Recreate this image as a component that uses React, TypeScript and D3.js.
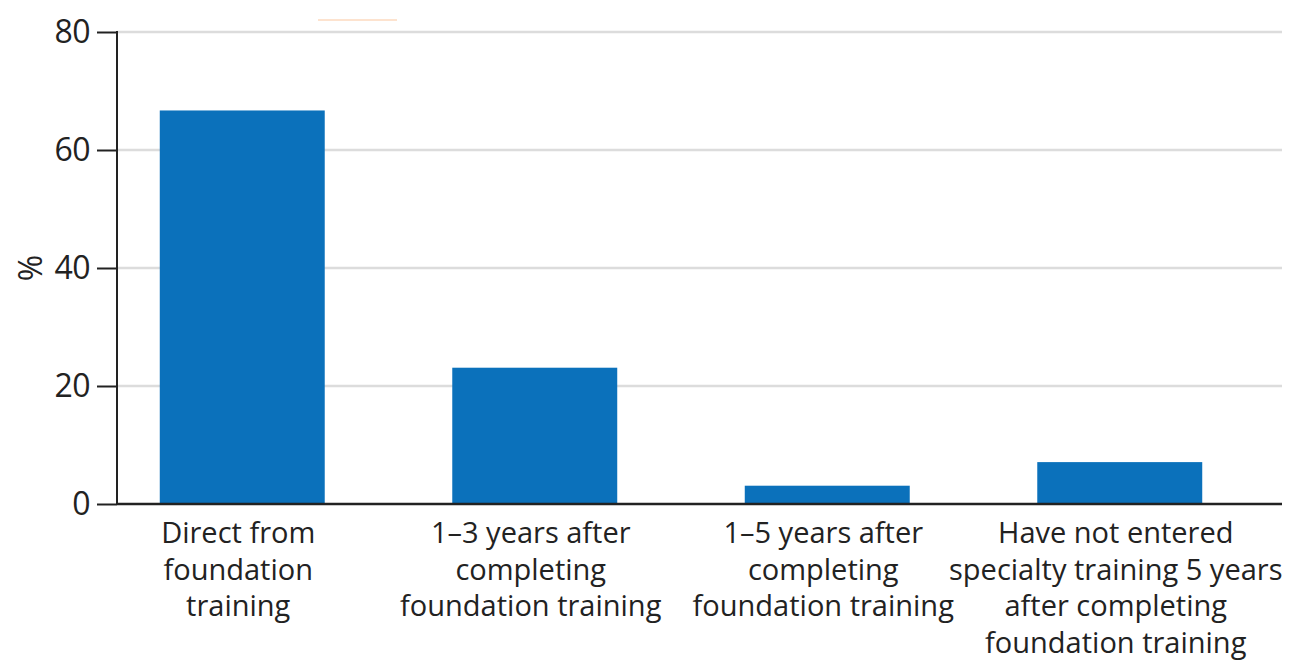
import React, { useEffect, useRef } from "react";
import * as d3 from "d3";

// values (per cent of doctors)
const categories = ["direct", "oneToThree", "oneToFive", "notEntered"];
const categoryLabels = [
  ["Direct from", "foundation", "training"],
  ["1–3 years after", "completing", "foundation training"],
  ["1–5 years after", "completing", "foundation training"],
  ["Have not entered", "specialty training 5 years", "after completing", "foundation training"],
];
const percentValues = [66.7, 23.1, 3.1, 7.1];
const yTicks = [0, 20, 40, 60, 80];

const W = 1292;
const H = 661;
const FONT = "'Open Sans', 'Noto Sans', sans-serif";

export default function App() {
  const ref = useRef<SVGSVGElement>(null);

  useEffect(() => {
    const svg = d3.select(ref.current);
    svg.selectAll("*").remove();

    const axisX = 117;
    const right = 1282;
    const y = d3.scaleLinear().domain([0, 80]).range([504, 32]);
    const x = d3
      .scaleBand<string>()
      .domain(categories)
      .range([96, 1266])
      .paddingInner(0.436)
      .paddingOuter(0.218);

    // faint leftover legend stroke at the top
    svg.append("line")
      .attr("x1", 318).attr("x2", 397).attr("y1", 20).attr("y2", 20)
      .attr("stroke", "#fde3cf").attr("stroke-width", 2);

    // gridlines
    svg.append("g")
      .selectAll("line")
      .data(yTicks.filter((t) => t > 0))
      .enter()
      .append("line")
      .attr("x1", axisX)
      .attr("x2", right)
      .attr("y1", (d) => y(d))
      .attr("y2", (d) => y(d))
      .attr("stroke", "#dcdcdc")
      .attr("stroke-width", 2.5);

    // bars
    svg.append("g")
      .selectAll("rect")
      .data(categories)
      .enter()
      .append("rect")
      .attr("x", (d) => x(d)!)
      .attr("width", x.bandwidth())
      .attr("y", (d, i) => y(percentValues[i]))
      .attr("height", (d, i) => y(0) - y(percentValues[i]))
      .attr("fill", "#0b71bb");

    // y axis
    const yAxis = svg.append("g")
      .attr("transform", `translate(${axisX},0)`)
      .call(d3.axisLeft(y).tickValues(yTicks).tickSize(20).tickPadding(7).tickFormat(d3.format("d")));
    yAxis.select(".domain").remove();
    yAxis.selectAll(".tick line").attr("stroke", "#222").attr("stroke-width", 2);
    yAxis.selectAll(".tick text")
      .attr("font-family", FONT)
      .attr("font-size", 32)
      .attr("letter-spacing", -0.5)
      .attr("fill", "#222");

    svg.append("line")
      .attr("x1", axisX).attr("x2", axisX)
      .attr("y1", y(80) - 1).attr("y2", y(0))
      .attr("stroke", "#222").attr("stroke-width", 2);
    svg.append("line")
      .attr("x1", axisX).attr("x2", right)
      .attr("y1", y(0)).attr("y2", y(0))
      .attr("stroke", "#222").attr("stroke-width", 2.5);

    // y label
    svg.append("text")
      .attr("transform", `translate(42,${y(40)}) rotate(-90)`)
      .attr("text-anchor", "middle")
      .attr("font-family", FONT)
      .attr("font-size", 32)
      .attr("fill", "#222")
      .text("%");

    // category labels, one text per line
    const rows = categories.flatMap((c, i) =>
      categoryLabels[i].map((line, k) => ({ c, line, k }))
    );
    svg.append("g")
      .selectAll("text")
      .data(rows)
      .enter()
      .append("text")
      .attr("text-anchor", "middle")
      .attr("font-family", FONT)
      .attr("font-size", 29)
      .attr("fill", "#222")
      .attr("x", (d) => x(d.c)! + x.bandwidth() / 2 - 4)
      .attr("y", (d) => 543 + d.k * 36.5)
      .text((d) => d.line);
  }, []);

  return (
    <div style={{ position: "absolute", left: 0, top: 0, background: "#fff" }}>
      <svg ref={ref} width={W} height={H} style={{ display: "block" }} />
    </div>
  );
}
